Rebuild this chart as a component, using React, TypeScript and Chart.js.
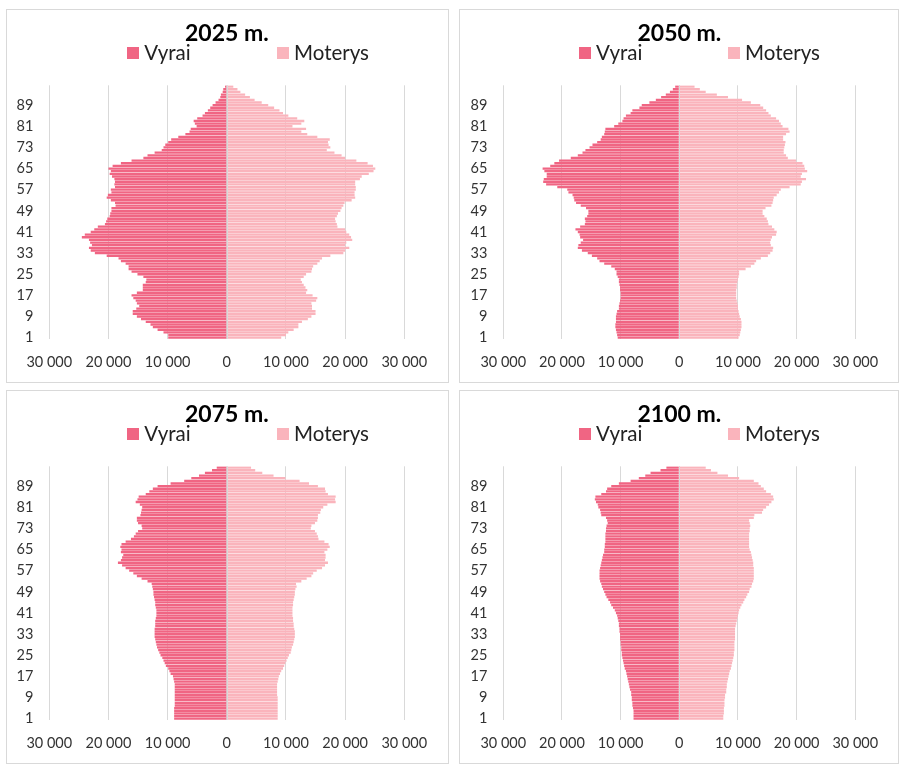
import React, { useEffect, useRef } from "react";
import { Chart, registerables } from "chart.js";

Chart.register(...registerables);
Chart.defaults.font.family = "Lato";

// Age categories (bottom to top)
const AGES = [
  1, 2, 3, 4, 5, 6, 7, 8, 9, 10, 11, 12, 13, 14, 15, 16, 17, 18, 19, 20,
  21, 22, 23, 24, 25, 26, 27, 28, 29, 30, 31, 32, 33, 34, 35, 36, 37, 38, 39, 40,
  41, 42, 43, 44, 45, 46, 47, 48, 49, 50, 51, 52, 53, 54, 55, 56, 57, 58, 59, 60,
  61, 62, 63, 64, 65, 66, 67, 68, 69, 70, 71, 72, 73, 74, 75, 76, 77, 78, 79, 80,
  81, 82, 83, 84, 85, 86, 87, 88, 89, 90, 91, 92, 93, 94, 95, 96,
];
// Age labels shown on the vertical axis
const Y_TICK_LABELS = [1, 9, 17, 25, 33, 41, 49, 57, 65, 73, 81, 89];
// Horizontal axis range and step
const X_RANGE = [-30000, 30000];
const X_STEP = 10000;

const TITLES = ["2025 m.", "2050 m.", "2075 m.", "2100 m."];
const SERIES_NAMES = ["Vyrai", "Moterys"];

// Population by age, in thousands (age 1 .. 96)
const male2025 = [
  9.9, 9.9, 10.7, 11.7, 12.5, 12.9, 13.7, 14.5, 15.2, 15.9,
  15.9, 15.3, 14.8, 15.2, 15.4, 15.8, 16.1, 15.2, 14.2, 14.2,
  14.2, 13.7, 13.6, 14.1, 15.1, 16.1, 16.6, 16.6, 17.1, 17.9,
  18.3, 20.3, 22.3, 23.0, 23.3, 22.8, 23.1, 23.3, 24.5, 24.0,
  23.0, 22.4, 21.8, 20.6, 20.4, 20.2, 19.8, 19.7, 19.5, 19.5,
  18.8, 18.9, 19.6, 20.3, 20.1, 19.5, 19.6, 18.9, 19.0, 18.9,
  19.0, 19.4, 19.8, 19.6, 20.0, 19.3, 17.9, 16.1, 14.1, 13.4,
  12.2, 11.0, 10.7, 10.4, 9.9, 9.4, 8.2, 7.0, 6.3, 6.1,
  5.1, 5.4, 5.6, 5.0, 4.1, 3.7, 3.2, 2.8, 2.4, 1.9,
  1.4, 1.1, 1.0, 0.7, 0.6, 0.3,
];
const female2025 = [
  9.2, 10.0, 10.4, 11.3, 12.1, 12.1, 12.7, 13.7, 14.3, 15.0,
  15.0, 14.4, 14.4, 14.3, 15.1, 15.3, 14.5, 13.4, 13.6, 13.3,
  13.0, 12.7, 12.5, 13.0, 13.4, 14.3, 14.4, 14.6, 15.3, 15.7,
  16.1, 17.5, 19.7, 20.0, 20.7, 20.0, 20.2, 21.2, 21.0, 20.7,
  20.2, 20.0, 18.7, 18.6, 18.4, 18.3, 18.6, 18.8, 19.2, 19.4,
  19.7, 19.9, 21.1, 21.7, 21.6, 21.6, 21.8, 21.8, 21.7, 21.7,
  22.5, 22.8, 24.0, 24.8, 25.1, 24.7, 23.8, 21.9, 20.0, 19.4,
  18.2, 16.9, 17.5, 17.2, 17.1, 17.4, 15.3, 13.6, 12.6, 13.4,
  11.1, 12.6, 13.1, 11.9, 10.4, 9.5, 8.9, 8.0, 7.0, 5.9,
  4.7, 3.9, 3.1, 2.3, 1.8, 1.1,
];
const male2050 = [
  10.5, 10.6, 10.7, 10.8, 10.9, 10.9, 10.8, 10.8, 10.8, 10.7,
  10.6, 10.3, 10.3, 10.2, 10.1, 10.0, 10.0, 10.0, 10.1, 10.1,
  10.2, 10.3, 10.3, 10.5, 10.7, 10.7, 11.0, 11.6, 12.8, 13.6,
  14.0, 14.9, 15.6, 16.6, 17.3, 17.2, 16.8, 16.4, 16.9, 17.0,
  17.3, 17.7, 16.9, 16.1, 16.0, 16.1, 15.7, 15.5, 15.5, 15.9,
  16.8, 17.6, 17.9, 18.0, 18.2, 18.9, 19.1, 20.8, 22.7, 23.2,
  23.1, 22.6, 22.6, 23.0, 23.3, 22.0, 21.3, 20.5, 18.5, 17.3,
  16.5, 16.0, 15.3, 14.8, 14.0, 13.4, 13.2, 12.8, 12.7, 12.6,
  11.1, 10.4, 9.7, 9.5, 9.1, 8.3, 8.0, 6.8, 6.4, 5.1,
  4.0, 3.1, 2.3, 1.6, 1.1, 0.7,
];
const female2050 = [
  10.1, 10.3, 10.4, 10.5, 10.6, 10.6, 10.6, 10.5, 10.3, 10.2,
  10.1, 10.0, 10.0, 9.9, 9.8, 9.7, 9.7, 9.7, 9.7, 9.8,
  9.8, 9.9, 10.0, 10.1, 10.2, 10.2, 11.3, 12.2, 12.8, 13.1,
  13.9, 15.1, 15.5, 15.9, 16.0, 15.6, 15.5, 15.6, 15.8, 16.5,
  16.6, 16.2, 15.8, 15.2, 15.1, 14.9, 14.5, 14.2, 14.2, 14.7,
  15.7, 15.9, 16.0, 16.1, 16.6, 17.0, 17.3, 18.8, 20.7, 20.9,
  21.6, 20.7, 20.9, 21.8, 21.4, 21.3, 21.0, 19.9, 18.5, 18.2,
  17.8, 17.8, 17.9, 18.0, 18.1, 17.7, 17.7, 18.2, 18.8, 18.6,
  17.6, 17.3, 17.0, 16.5, 15.6, 15.2, 14.8, 14.3, 13.8, 12.2,
  10.7, 8.3, 6.4, 4.5, 3.5, 2.6,
];
const male2075 = [
  8.9, 8.9, 8.9, 8.9, 8.9, 8.8, 8.8, 8.8, 8.8, 8.8,
  8.8, 8.8, 8.8, 8.8, 8.9, 9.0, 9.1, 9.5, 9.7, 9.9,
  10.3, 10.5, 10.7, 10.9, 11.2, 11.4, 11.6, 11.8, 11.9, 12.0,
  12.1, 12.2, 12.2, 12.2, 12.2, 12.1, 12.1, 12.1, 12.0, 11.9,
  11.9, 11.9, 12.0, 12.1, 12.1, 12.2, 12.3, 12.4, 12.4, 12.5,
  12.6, 12.7, 13.4, 14.4, 15.2, 15.8, 16.5, 17.1, 17.7, 18.4,
  17.9, 17.7, 17.5, 17.9, 17.8, 18.0, 17.8, 17.1, 16.2, 15.7,
  15.4, 15.0, 14.3, 14.4, 15.0, 15.2, 15.2, 14.6, 14.5, 14.4,
  14.3, 14.7, 15.4, 15.1, 14.9, 13.7, 13.1, 12.5, 11.7, 9.5,
  7.2, 6.0, 4.7, 3.7, 2.5, 1.7,
];
const female2075 = [
  8.6, 8.6, 8.6, 8.6, 8.6, 8.6, 8.6, 8.6, 8.6, 8.5,
  8.5, 8.5, 8.5, 8.5, 8.6, 8.7, 8.8, 9.0, 9.2, 9.5,
  9.7, 9.9, 10.1, 10.3, 10.5, 10.8, 10.9, 11.0, 11.2, 11.3,
  11.4, 11.5, 11.5, 11.5, 11.4, 11.3, 11.3, 11.2, 11.2, 11.1,
  11.1, 11.1, 11.1, 11.2, 11.2, 11.3, 11.4, 11.5, 11.5, 11.6,
  11.8, 11.7, 12.6, 13.5, 14.3, 14.6, 15.2, 16.1, 16.6, 17.1,
  16.6, 16.7, 16.7, 16.5, 17.0, 17.4, 17.2, 16.5, 15.5, 15.4,
  15.2, 14.9, 14.2, 14.3, 14.9, 15.3, 15.4, 15.4, 15.8, 15.9,
  16.3, 17.0, 18.4, 18.3, 18.4, 17.1, 16.7, 16.6, 15.4, 13.9,
  12.3, 9.9, 7.9, 6.0, 4.8, 4.1,
];
const male2100 = [
  7.8, 7.8, 7.8, 7.8, 7.9, 8.0, 8.0, 8.1, 8.1, 8.2,
  8.2, 8.4, 8.5, 8.6, 8.7, 8.8, 8.9, 9.0, 9.1, 9.3,
  9.4, 9.5, 9.6, 9.7, 9.8, 9.8, 9.9, 9.9, 10.0, 10.0,
  10.1, 10.1, 10.1, 10.2, 10.2, 10.3, 10.3, 10.4, 10.5, 10.6,
  10.8, 11.0, 11.3, 11.6, 11.8, 12.1, 12.4, 12.6, 12.8, 13.0,
  13.2, 13.3, 13.5, 13.6, 13.6, 13.6, 13.6, 13.5, 13.4, 13.3,
  13.2, 13.1, 13.0, 12.8, 12.8, 12.7, 12.7, 12.6, 12.6, 12.6,
  12.6, 12.5, 12.5, 12.4, 12.2, 12.3, 12.5, 13.3, 13.4, 13.5,
  13.8, 13.9, 14.2, 14.4, 14.3, 13.3, 12.5, 12.3, 11.6, 10.3,
  8.3, 6.9, 5.8, 4.9, 3.2, 2.2,
];
const female2100 = [
  7.5, 7.5, 7.6, 7.6, 7.6, 7.7, 7.7, 7.7, 7.8, 7.8,
  8.0, 8.0, 8.1, 8.1, 8.2, 8.3, 8.4, 8.5, 8.6, 8.8,
  8.9, 9.0, 9.1, 9.2, 9.3, 9.3, 9.4, 9.4, 9.4, 9.4,
  9.5, 9.5, 9.5, 9.5, 9.5, 9.6, 9.7, 9.8, 9.9, 10.0,
  10.1, 10.2, 10.4, 10.6, 10.9, 11.1, 11.4, 11.6, 11.9, 12.0,
  12.3, 12.4, 12.6, 12.7, 12.7, 12.7, 12.7, 12.7, 12.6, 12.6,
  12.5, 12.4, 12.3, 12.2, 12.0, 11.9, 11.9, 11.9, 11.9, 11.9,
  11.9, 12.0, 12.0, 12.1, 12.0, 11.9, 12.7, 12.8, 14.1, 14.3,
  14.8, 15.3, 15.7, 16.1, 16.0, 15.6, 14.8, 14.4, 13.9, 13.5,
  12.7, 10.2, 8.3, 6.5, 5.4, 4.5,
];

const MALE_COLOR = "#F06583";
const FEMALE_COLOR = "#FAB4BC";
const GRID_COLOR = "#D9D9D9";
const TEXT_COLOR = "#333333";

const fmt = (v: number) =>
  String(Math.abs(Math.round(v))).replace(/\B(?=(\d{3})+(?!\d))/g, " ");

const zeroLine = {
  id: "zeroLine",
  afterDatasetsDraw(chart: any) {
    const ctx = chart.ctx;
    const x = Math.round(chart.scales.x.getPixelForValue(0)) + 0.5;
    const { top, bottom } = chart.chartArea;
    ctx.save();
    ctx.strokeStyle = GRID_COLOR;
    ctx.lineWidth = 1;
    ctx.beginPath();
    ctx.moveTo(x, top);
    ctx.lineTo(x, bottom);
    ctx.stroke();
    ctx.restore();
  },
};

type PanelProps = {
  title: string;
  male: number[];
  female: number[];
  left: number;
  top: number;
  width: number;
  height: number;
  plotLeft: number;
  plotRight: number;
  legendX: number[];
};

function Panel(p: PanelProps) {
  const ref = useRef<HTMLCanvasElement>(null);
  const innerW = p.width - 2;
  const innerH = p.height - 2;

  useEffect(() => {
    if (!ref.current) return;
    const tickFont = { family: "Lato", size: 14.5 };
    const chart = new Chart(ref.current, {
      type: "bar",
      data: {
        labels: AGES.map(String),
        datasets: [
          {
            label: SERIES_NAMES[0],
            data: p.male.map((v) => -v * 1000),
            backgroundColor: MALE_COLOR,
            borderWidth: 0,
            barPercentage: 0.88,
            categoryPercentage: 1,
          },
          {
            label: SERIES_NAMES[1],
            data: p.female.map((v) => v * 1000),
            backgroundColor: FEMALE_COLOR,
            borderWidth: 0,
            barPercentage: 0.88,
            categoryPercentage: 1,
          },
        ],
      },
      options: {
        indexAxis: "y",
        responsive: false,
        animation: false,
        events: [],
        layout: {
          padding: { left: 0, right: innerW - p.plotRight, top: 0, bottom: 10.8 },
        },
        plugins: {
          legend: { display: false },
          tooltip: { enabled: false },
          title: {
            display: true,
            text: p.title,
            fullSize: false,
            color: "#000000",
            font: { family: "Lato", size: 23, weight: "bold", lineHeight: 1.2 },
            padding: { top: 9.6, bottom: 38.1 },
          },
        },
        scales: {
          x: {
            type: "linear",
            min: X_RANGE[0],
            max: X_RANGE[1],
            stacked: true,
            ticks: {
              stepSize: X_STEP,
              color: TEXT_COLOR,
              font: tickFont,
              padding: 14.8,
              maxRotation: 0,
              autoSkip: false,
              callback: (v: any) => fmt(Number(v)),
            },
            grid: { color: GRID_COLOR, lineWidth: 1, drawTicks: false },
            border: { display: false },
            afterFit: (s: any) => {
              s.height = 32.2;
            },
          },
          y: {
            type: "category",
            reverse: true,
            stacked: true,
            ticks: {
              autoSkip: false,
              padding: 16,
              color: TEXT_COLOR,
              font: tickFont,
              callback: (v: any) => {
                const age = AGES[Number(v)];
                return Y_TICK_LABELS.includes(age) ? String(age) : "";
              },
            },
            grid: { display: false, drawTicks: false },
            border: { display: false },
            afterFit: (s: any) => {
              s.width = p.plotLeft;
            },
          },
        },
      } as any,
      plugins: [zeroLine],
    });
    return () => chart.destroy();
  }, []);

  const legendColors = [MALE_COLOR, FEMALE_COLOR];
  return (
    <div
      style={{
        position: "absolute",
        left: p.left,
        top: p.top,
        width: p.width,
        height: p.height,
        boxSizing: "border-box",
        border: `1px solid ${GRID_COLOR}`,
        background: "#ffffff",
      }}
    >
      <canvas
        ref={ref}
        width={innerW}
        height={innerH}
        style={{ position: "absolute", left: 0, top: 0, width: innerW, height: innerH }}
      />
      {SERIES_NAMES.map((name, i) => (
        <React.Fragment key={name}>
          <div
            style={{
              position: "absolute",
              left: p.legendX[i],
              top: 37.3,
              width: 12,
              height: 12,
              background: legendColors[i],
            }}
          />
          <span
            style={{
              position: "absolute",
              left: p.legendX[i] + 17,
              top: 32,
              fontFamily: "Lato",
              fontSize: "20.5px",
              lineHeight: "20px",
              color: "#222222",
              whiteSpace: "nowrap",
            }}
          >
            {name}
          </span>
        </React.Fragment>
      ))}
    </div>
  );
}

export default function App() {
  const panels: PanelProps[] = [
    { title: TITLES[0], male: male2025, female: female2025, left: 6, top: 9, width: 443, height: 374, plotLeft: 42.3, plotRight: 397.3, legendX: [120.3, 270] },
    { title: TITLES[1], male: male2050, female: female2050, left: 459, top: 9, width: 440, height: 374, plotLeft: 43.3, plotRight: 395.3, legendX: [119, 268] },
    { title: TITLES[2], male: male2075, female: female2075, left: 6, top: 390, width: 443, height: 374, plotLeft: 42.3, plotRight: 397.3, legendX: [120.3, 270] },
    { title: TITLES[3], male: male2100, female: female2100, left: 459, top: 390, width: 440, height: 374, plotLeft: 43.3, plotRight: 395.3, legendX: [119, 268] },
  ];
  return (
    <div>
      {panels.map((p) => (
        <Panel key={p.title} {...p} />
      ))}
    </div>
  );
}
